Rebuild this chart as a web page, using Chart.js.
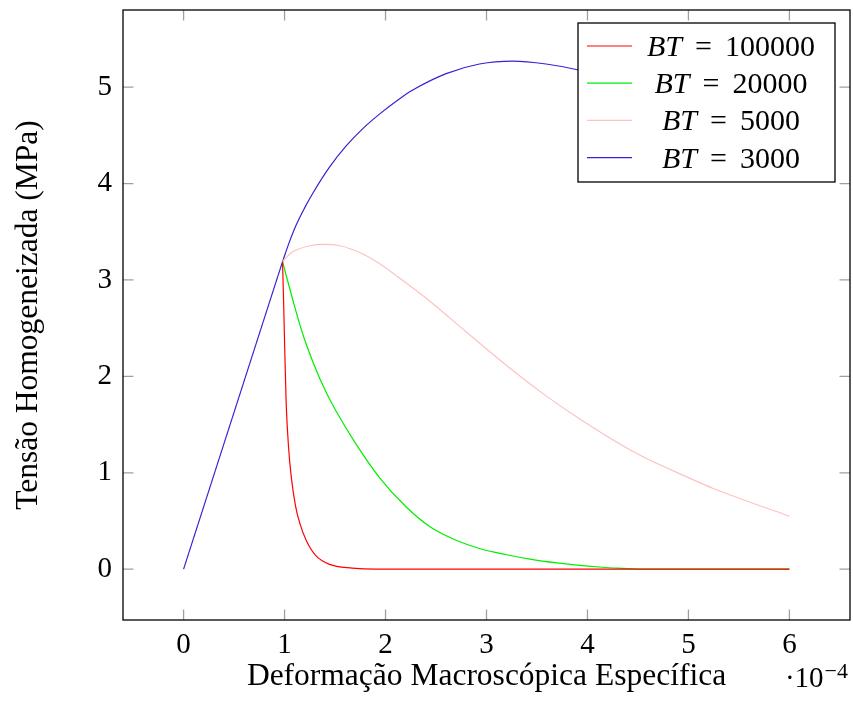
<!DOCTYPE html>
<html>
<head>
<meta charset="utf-8">
<script src="https://cdn.jsdelivr.net/npm/chart.js@4.4.1/dist/chart.umd.min.js"></script>
<style>
  body { margin: 0; background: #fff; }
</style>
</head>
<body>
<canvas id="chart" width="853" height="704"></canvas>
<script>
// Strain in units of 1e-4, stress in MPa
const elastic = [[0, 0], [0.98, 3.19]];

const bt100000 = [[0.98, 3.19], [0.99, 2.80], [1.0, 2.36], [1.016, 1.72], [1.04, 1.26], [1.065, 0.97],
  [1.108, 0.66], [1.15, 0.48], [1.214, 0.30], [1.31, 0.14], [1.445, 0.05], [1.67, 0.012],
  [1.9, 0], [3, 0], [4.5, 0], [6, 0]];

const bt20000 = [[0.98, 3.19], [1.08, 2.80], [1.18, 2.44], [1.3, 2.10], [1.4, 1.86], [1.51, 1.64],
  [1.7, 1.31], [1.94, 0.95], [2.2, 0.65], [2.44, 0.44], [2.7, 0.30], [2.93, 0.215], [3.2, 0.15],
  [3.43, 0.105], [3.7, 0.065], [3.92, 0.04], [4.15, 0.02], [4.35, 0.008], [4.5, 0], [5, 0], [6, 0]];

const bt5000 = [[0.98, 3.19], [1.05, 3.27], [1.115, 3.31], [1.25, 3.355], [1.395, 3.37], [1.55, 3.355],
  [1.775, 3.27], [1.94, 3.17], [2.1, 3.05], [2.44, 2.78], [2.8, 2.46], [3.26, 2.06], [3.6, 1.79],
  [3.92, 1.56], [4.35, 1.28], [4.58, 1.15], [5.0, 0.95], [5.24, 0.84], [5.57, 0.71], [6.0, 0.55]];

const bt3000 = [[0.98, 3.19], [1.05, 3.40], [1.115, 3.57], [1.2, 3.75], [1.28, 3.90], [1.445, 4.17],
  [1.61, 4.39], [1.775, 4.57], [1.94, 4.72], [2.14, 4.88], [2.27, 4.97], [2.6, 5.14], [2.93, 5.24],
  [3.26, 5.27], [3.59, 5.24], [3.9, 5.18], [4.2, 5.09], [4.5, 4.98], [5.0, 4.76], [5.5, 4.50],
  [6.0, 4.22]];

const seriesLabels = ['100000', '20000', '5000', '3000'];
const seriesData = [bt100000, bt20000, bt5000, bt3000];
const seriesColors = ['#ff0000', '#00ee00', '#ffc0c0', '#3a20d0'];

const xTicks = [0, 1, 2, 3, 4, 5, 6];
const yTicks = [0, 1, 2, 3, 4, 5];

const serif = '"Liberation Serif", "DejaVu Serif", serif';
const tickSize = 29;
const titleSize = 31.5;
const legendSize = 30;

function toPoints(arr) {
  return arr.map(p => ({ x: p[0], y: p[1] }));
}

const datasets = seriesData.map((d, i) => ({
  label: 'BT = ' + seriesLabels[i],
  data: toPoints(d),
  borderColor: seriesColors[i],
  borderWidth: 1.2,
  pointRadius: 0,
  fill: false,
  cubicInterpolationMode: 'monotone',
}));
// shared elastic branch, drawn on top in the colour of the last series
datasets.push({
  label: 'elastic',
  data: toPoints(elastic),
  borderColor: seriesColors[3],
  borderWidth: 1.2,
  pointRadius: 0,
  fill: false,
});

// box, inward ticks, legend and the exponent label
const decorations = {
  id: 'decorations',
  afterDatasetsDraw(chart) {
    const ctx = chart.ctx;
    const a = chart.chartArea;
    const xs = chart.scales.x;
    const ys = chart.scales.y;
    const len = 10.5;

    ctx.save();
    ctx.strokeStyle = '#a0a0a0';
    ctx.lineWidth = 1.3;
    ctx.beginPath();
    xTicks.forEach(v => {
      const px = xs.getPixelForValue(v);
      ctx.moveTo(px, a.bottom); ctx.lineTo(px, a.bottom - len);
      ctx.moveTo(px, a.top); ctx.lineTo(px, a.top + len);
    });
    yTicks.forEach(v => {
      const py = ys.getPixelForValue(v);
      ctx.moveTo(a.left, py); ctx.lineTo(a.left + len, py);
      ctx.moveTo(a.right, py); ctx.lineTo(a.right - len, py);
    });
    ctx.stroke();

    ctx.strokeStyle = '#000';
    ctx.lineWidth = 1.3;
    ctx.strokeRect(a.left, a.top, a.right - a.left, a.bottom - a.top);

    // legend
    const bx = a.right - 272, by = a.top + 13, bw = 257, bh = 159;
    ctx.fillStyle = '#fff';
    ctx.fillRect(bx, by, bw, bh);
    ctx.strokeRect(bx, by, bw, bh);
    seriesLabels.forEach((lab, i) => {
      const ly = by + 23 + i * 37.2;
      ctx.strokeStyle = seriesColors[i];
      ctx.lineWidth = 1.2;
      ctx.beginPath();
      ctx.moveTo(bx + 9, ly); ctx.lineTo(bx + 54, ly);
      ctx.stroke();

      ctx.fillStyle = '#000';
      ctx.textBaseline = 'alphabetic';
      ctx.textAlign = 'left';
      const it = 'italic ' + legendSize + 'px ' + serif;
      const rm = legendSize + 'px ' + serif;
      ctx.font = it; const w1 = ctx.measureText('BT').width;
      ctx.font = rm; const w2 = ctx.measureText('=').width; const w3 = ctx.measureText(lab).width;
      const gap = 13;
      const total = w1 + gap + w2 + gap + w3;
      let tx = bx + 153 - total / 2;
      ctx.font = it; ctx.fillText('BT', tx, ly + 10);
      tx += w1 + gap;
      ctx.font = rm; ctx.fillText('=', tx, ly + 10);
      tx += w2 + gap;
      ctx.fillText(lab, tx, ly + 10);
    });

    // ·10^-4 multiplier
    ctx.fillStyle = '#000';
    ctx.textAlign = 'right';
    ctx.font = '22px ' + serif;
    const sup = '\u22124';
    const ws = ctx.measureText(sup).width;
    ctx.fillText(sup, chart.width - 5, 678);
    ctx.font = tickSize + 'px ' + serif;
    ctx.fillText('\u00b710', chart.width - 5 - ws - 1, 687);
    ctx.restore();
  }
};

new Chart(document.getElementById('chart'), {
  type: 'line',
  data: { datasets },
  plugins: [decorations],
  options: {
    responsive: false,
    animation: false,
    layout: { padding: { top: 10, right: 3, left: 0, bottom: 0 } },
    plugins: {
      legend: { display: false },
      tooltip: { enabled: false },
    },
    scales: {
      x: {
        type: 'linear',
        min: -0.6,
        max: 6.6,
        grid: { display: false, drawTicks: false },
        border: { display: false },
        afterBuildTicks: axis => { axis.ticks = xTicks.map(v => ({ value: v })); },
        afterFit: axis => { axis.height = 84; axis.paddingLeft = 0; axis.paddingRight = 0; },
        ticks: {
          color: '#000',
          padding: 8,
          maxRotation: 0,
          font: { family: serif, size: tickSize },
        },
        title: {
          display: true,
          text: 'Deformação Macroscópica Específica',
          color: '#000',
          padding: { bottom: 8 },
          font: { family: serif, size: titleSize },
        },
      },
      y: {
        type: 'linear',
        min: -0.527,
        max: 5.8,
        grid: { display: false, drawTicks: false },
        border: { display: false },
        afterBuildTicks: axis => { axis.ticks = yTicks.map(v => ({ value: v })); },
        afterFit: axis => { axis.width = 123; axis.paddingTop = 0; axis.paddingBottom = 0; },
        ticks: {
          color: '#000',
          padding: 11,
          font: { family: serif, size: tickSize },
        },
        title: {
          display: true,
          text: 'Tensão Homogeneizada (MPa)',
          color: '#000',
          padding: { top: 10 },
          font: { family: serif, size: titleSize },
        },
      },
    },
  },
});
</script>
</body>
</html>
